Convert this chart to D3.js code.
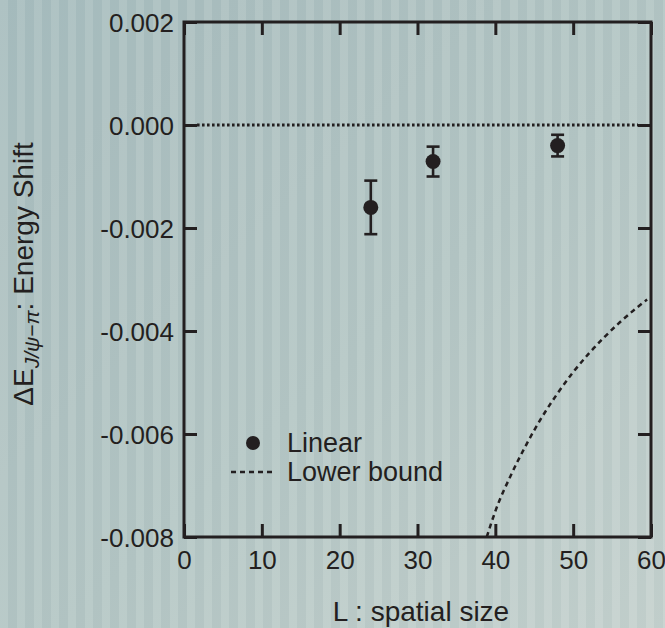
<!DOCTYPE html>
<html>
<head>
<meta charset="utf-8">
<script src="https://cdn.jsdelivr.net/npm/d3@7"></script>
<style>
  html, body { margin: 0; padding: 0; background: #b3c5c3; }
  svg { display: block; font-family: "Liberation Sans", Arial, Helvetica, sans-serif; }
</style>
</head>
<body>
<div id="chart"></div>
<script>
// data
const sizeL = [24, 32, 48];
const shiftE = [-0.0016, -0.00071, -0.0004];
const shiftErr = [0.00052, 0.00029, 0.00021];

const boundL = [38.9, 40, 42, 44, 46, 48, 50, 52, 54, 56, 58, 59.5];
const boundE = [-0.0080, -0.0075, -0.0068, -0.0062, -0.00567, -0.00521, -0.0048, -0.00444, -0.00412, -0.00383, -0.00357, -0.00339];

const xTicks = [0, 10, 20, 30, 40, 50, 60];
const yTicks = [0.002, 0.000, -0.002, -0.004, -0.006, -0.008];

(function(){
const W = 665, H = 628;
const plotL = 184, plotR = 651, plotT = 22, plotB = 537;
const ink = "#231f20";

const svg = d3.select("#chart").append("svg")
    .attr("width", W)
    .attr("height", H);

// background: diagonal gradient with vertical stripes
const defs = svg.append("defs");
const grad = defs.append("linearGradient")
    .attr("id", "bg")
    .attr("x1", "0").attr("y1", "0").attr("x2", "1").attr("y2", "1");
grad.append("stop").attr("offset", "0%").attr("stop-color", "#a8bdbe");
grad.append("stop").attr("offset", "55%").attr("stop-color", "#b5c7c5");
grad.append("stop").attr("offset", "100%").attr("stop-color", "#c6d2ce");

const pat = defs.append("pattern")
    .attr("id", "stripes")
    .attr("patternUnits", "userSpaceOnUse")
    .attr("width", 17).attr("height", 10);
pat.append("rect").attr("width", 8).attr("height", 10).attr("fill", "#ffffff").attr("opacity", 0.07);
pat.append("rect").attr("x", 8).attr("width", 9).attr("height", 10).attr("fill", "#56707a").attr("opacity", 0.04);

svg.append("rect").attr("width", W).attr("height", H).attr("fill", "url(#bg)");
svg.append("rect").attr("width", W).attr("height", H).attr("fill", "url(#stripes)");

// scales
const x = d3.scaleLinear().domain([0, 60]).range([plotL, plotR]);
const y = d3.scaleLinear().domain([-0.008, 0.002]).range([plotB, plotT]);

const tickLen = 13;
const yFmt = d => d3.format(".3f")(d).replace("\u2212", "-");

// axes (ticks inward, all four sides)
const xb = svg.append("g")
    .attr("transform", `translate(0,${plotB})`)
    .call(d3.axisBottom(x).tickValues(xTicks).tickSize(-tickLen).tickPadding(14).tickFormat(d3.format("d")));
const xt = svg.append("g")
    .attr("transform", `translate(0,${plotT})`)
    .call(d3.axisTop(x).tickValues(xTicks).tickSize(-tickLen).tickFormat(""));
const yl = svg.append("g")
    .attr("transform", `translate(${plotL},0)`)
    .call(d3.axisLeft(y).tickValues(yTicks).tickSize(-tickLen).tickPadding(10).tickFormat(yFmt));
const yr = svg.append("g")
    .attr("transform", `translate(${plotR},0)`)
    .call(d3.axisRight(y).tickValues(yTicks).tickSize(-tickLen).tickFormat(""));

[xb, xt, yl, yr].forEach(g => {
  g.select(".domain").remove();
  g.selectAll(".tick line").attr("stroke", ink).attr("stroke-width", 3);
  g.selectAll(".tick text")
      .attr("fill", ink)
      .style("font-size", "26px")
      .style("font-family", "'Liberation Sans', Arial, sans-serif");
});
yl.selectAll(".tick text").attr("dy", "0.36em");

// frame
svg.append("rect")
    .attr("x", plotL).attr("y", plotT)
    .attr("width", plotR - plotL).attr("height", plotB - plotT)
    .attr("fill", "none")
    .attr("stroke", ink)
    .attr("stroke-width", 3);

// zero reference line (dotted)
svg.append("line")
    .attr("x1", x(0) + tickLen).attr("x2", x(60) - tickLen)
    .attr("y1", y(0)).attr("y2", y(0))
    .attr("stroke", ink)
    .attr("stroke-width", 2.8)
    .attr("stroke-dasharray", "2.6,2.4");

// lower bound curve
const line = d3.line()
    .x((d, i) => x(boundL[i]))
    .y(d => y(d))
    .curve(d3.curveMonotoneX);
svg.append("path")
    .datum(boundE)
    .attr("d", line)
    .attr("fill", "none")
    .attr("stroke", ink)
    .attr("stroke-width", 2.5)
    .attr("stroke-dasharray", "5,4");

// error bars
const pts = sizeL.map((L, i) => ({ L, E: shiftE[i], err: shiftErr[i] }));
const cap = 6.5;
const eb = svg.append("g").attr("stroke", ink).attr("stroke-width", 2.6);
eb.selectAll(".bar")
    .data(pts).enter().append("line")
    .attr("x1", d => x(d.L)).attr("x2", d => x(d.L))
    .attr("y1", d => y(d.E + d.err)).attr("y2", d => y(d.E - d.err));
eb.selectAll(".capt")
    .data(pts).enter().append("line")
    .attr("x1", d => x(d.L) - cap).attr("x2", d => x(d.L) + cap)
    .attr("y1", d => y(d.E + d.err)).attr("y2", d => y(d.E + d.err));
eb.selectAll(".capb")
    .data(pts).enter().append("line")
    .attr("x1", d => x(d.L) - cap).attr("x2", d => x(d.L) + cap)
    .attr("y1", d => y(d.E - d.err)).attr("y2", d => y(d.E - d.err));

svg.selectAll(".pt")
    .data(pts).enter().append("circle")
    .attr("cx", d => x(d.L))
    .attr("cy", d => y(d.E))
    .attr("r", 7.5)
    .attr("fill", ink);

// legend
const lg = svg.append("g").attr("fill", ink).style("font-size", "27px");
lg.append("circle").attr("cx", 253).attr("cy", 443).attr("r", 7).attr("fill", ink);
lg.append("text").attr("x", 287).attr("y", 452).text("Linear");
lg.append("line")
    .attr("x1", 231).attr("x2", 276).attr("y1", 472).attr("y2", 472)
    .attr("stroke", ink).attr("stroke-width", 2.4).attr("stroke-dasharray", "5,4");
lg.append("text").attr("x", 287).attr("y", 481).text("Lower bound");

// axis titles
svg.append("text")
    .attr("x", 421).attr("y", 621)
    .attr("text-anchor", "middle")
    .attr("fill", ink)
    .style("font-size", "28px")
    .text("L : spatial size");

const yt = svg.append("text")
    .attr("transform", "translate(33,274) rotate(-90)")
    .attr("text-anchor", "middle")
    .attr("fill", ink)
    .style("font-size", "28px");
yt.append("tspan").text("\u0394E");
yt.append("tspan").attr("dy", 6).style("font-size", "21px").style("font-style", "italic").text("J/\u03c8\u2212\u03c0");
yt.append("tspan").attr("dy", -6).text(": Energy Shift");
})();
</script>
</body>
</html>
